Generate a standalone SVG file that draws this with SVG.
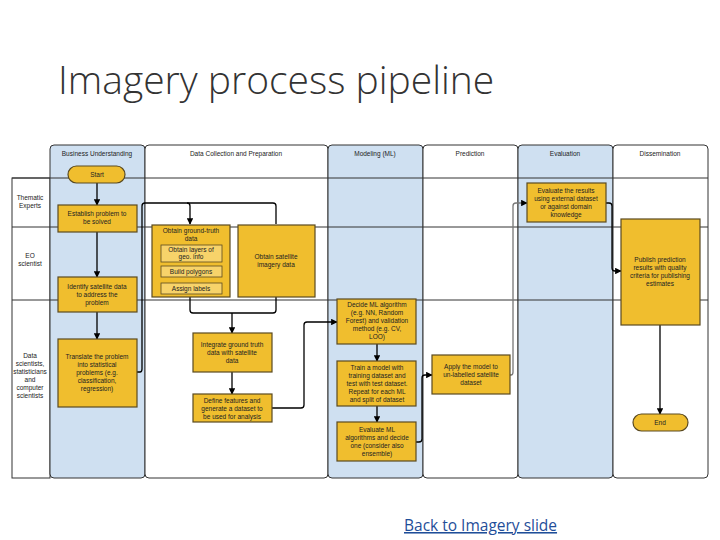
<svg xmlns="http://www.w3.org/2000/svg" width="720" height="540" viewBox="0 0 720 540">
<style>
.lane{stroke:#333;stroke-width:1}
.blue{fill:#cfe0f1}.white{fill:#fff}
.n{fill:#f0be2e;stroke:#5a4a20;stroke-width:1.2}
.s{fill:#f7d36a;stroke:#5a4a20;stroke-width:0.8}
.t{font-family:"Liberation Sans",Arial,sans-serif;font-size:6.5px;fill:#222;text-anchor:middle}
.h{font-family:"Liberation Sans",Arial,sans-serif;font-size:6.5px;fill:#222;text-anchor:middle}
.c{fill:none;stroke:#000;stroke-width:1.3;marker-end:url(#a)}
.c2{fill:none;stroke:#000;stroke-width:1.3}
</style>
<defs><marker id="a" viewBox="0 0 10 10" refX="9" refY="5" markerWidth="5" markerHeight="5" orient="auto"><path d="M0,0L10,5L0,10z" fill="#000"/></marker></defs>
<rect width="720" height="540" fill="#fff"/>
<text x="58" y="94" font-family="'Open Sans','Liberation Sans',sans-serif" font-weight="300" font-size="39" fill="#333">Imagery process pipeline</text>
<g id="lanes">
<rect x="12" y="178" width="38" height="300" class="lane white"/>
<rect x="50" y="145" width="95" height="333" rx="4" class="lane blue"/>
<rect x="145" y="145" width="183" height="333" rx="4" class="lane white"/>
<rect x="328" y="145" width="95" height="333" rx="4" class="lane blue"/>
<rect x="423" y="145" width="95" height="333" rx="4" class="lane white"/>
<rect x="518" y="145" width="95" height="333" rx="4" class="lane blue"/>
<rect x="613" y="145" width="95" height="333" rx="4" class="lane white"/>
<line x1="12" y1="178" x2="708" y2="178" class="lane"/>
<line x1="12" y1="227" x2="708" y2="227" class="lane"/>
<line x1="12" y1="300" x2="708" y2="300" class="lane"/>
<text class="h" x="97" y="156">Business Understanding</text>
<text class="h" x="236" y="156">Data Collection and Preparation</text>
<text class="h" x="375" y="156">Modeling (ML)</text>
<text class="h" x="470" y="156">Prediction</text>
<text class="h" x="565" y="156">Evaluation</text>
<text class="h" x="660" y="156">Dissemination</text>
<text class="h" x="30" y="200">Thematic</text><text class="h" x="30" y="208">Experts</text>
<text class="h" x="30" y="258">EO</text><text class="h" x="30" y="266">scientist</text>
<text class="h" x="30" y="358">Data</text><text class="h" x="30" y="366">scientists,</text><text class="h" x="30" y="374">statisticians</text><text class="h" x="30" y="382">and</text><text class="h" x="30" y="390">computer</text><text class="h" x="30" y="398">scientists</text>
</g>
<g id="connectors">
<path class="c" d="M97,183V205"/>
<path class="c" d="M97,232V277"/>
<path class="c" d="M97,312V339"/>
<path class="c2" d="M137,372H140Q142,372 142,369V206Q142,203 145,203H273Q276,203 276,206V224"/>
<path class="c" d="M187,203Q190,203 190,206V224"/>
<path class="c2" d="M190,297V310Q190,313 193,313H273Q276,313 276,310V297"/>
<path class="c" d="M232,313V333"/>
<path class="c" d="M232,372V394"/>
<path class="c" d="M272,408H301Q304,408 304,405V325Q304,322 307,322H337"/>
<path class="c" d="M377,344V361"/>
<path class="c" d="M377,406V422"/>
<path class="c" d="M416,442H419Q422,442 422,439V378Q422,375 425,375H432"/>
<path class="c2" d="M510,375H511Q513,375 513,372" style="stroke:#777"/>
<path class="c" d="M513,372V206Q513,203 516,203H527" style="stroke:#777"/>
<path class="c" d="M606,203H609Q612,203 612,206V268Q612,271 615,271H621"/>
<path class="c" d="M660,325V414"/>
</g>
<g id="start"><rect x="68" y="166" width="57" height="17" rx="8.5" class="n"/><text class="t" x="97" y="177">Start</text></g>
<g id="establish"><rect x="58" y="205" width="79" height="27" class="n"/><text class="t" x="97" y="216">Establish problem to</text><text class="t" x="97" y="224">be solved</text></g>
<g id="identify"><rect x="58" y="277" width="79" height="35" class="n"/><text class="t" x="97" y="289">Identify satellite data</text><text class="t" x="97" y="297">to address the</text><text class="t" x="97" y="305">problem</text></g>
<g id="translate"><rect x="58" y="339" width="79" height="68" class="n"/><text class="t" x="97" y="359">Translate the problem</text><text class="t" x="97" y="367">into statistical</text><text class="t" x="97" y="375">problems (e.g.</text><text class="t" x="97" y="383">classification,</text><text class="t" x="97" y="391">regression)</text></g>
<g id="groundtruth"><rect x="152" y="225" width="78" height="72" class="n"/><text class="t" x="191" y="233">Obtain ground-truth</text><text class="t" x="191" y="241">data</text>
<rect x="161" y="245" width="61" height="17" class="s"/><text class="t" x="191" y="252">Obtain layers of</text><text class="t" x="191" y="259">geo. info</text>
<rect x="161" y="266" width="61" height="11" class="s"/><text class="t" x="191" y="274">Build polygons</text>
<rect x="161" y="283" width="61" height="11" class="s"/><text class="t" x="191" y="291">Assign labels</text></g>
<g id="satellite"><rect x="238" y="225" width="77" height="72" class="n"/><text class="t" x="276" y="259">Obtain satellite</text><text class="t" x="276" y="267">imagery data</text></g>
<g id="integrate"><rect x="193" y="333" width="79" height="39" class="n"/><text class="t" x="232" y="347">Integrate ground truth</text><text class="t" x="232" y="355">data with satellite</text><text class="t" x="232" y="363">data</text></g>
<g id="define"><rect x="193" y="394" width="79" height="28" class="n"/><text class="t" x="232" y="403">Define features and</text><text class="t" x="232" y="411">generate a dataset to</text><text class="t" x="232" y="419">be used for analysis</text></g>
<g id="decide"><rect x="337" y="299" width="79" height="45" class="n"/><text class="t" x="377" y="307">Decide ML algorithm</text><text class="t" x="377" y="315">(e.g. NN, Random</text><text class="t" x="377" y="323">Forest) and validation</text><text class="t" x="377" y="331">method (e.g. CV,</text><text class="t" x="377" y="339">LOO)</text></g>
<g id="train"><rect x="337" y="361" width="79" height="45" class="n"/><text class="t" x="377" y="370">Train a model with</text><text class="t" x="377" y="378">training dataset and</text><text class="t" x="377" y="386">test with test dataset.</text><text class="t" x="377" y="394">Repeat for each ML</text><text class="t" x="377" y="402">and split of dataset</text></g>
<g id="evalml"><rect x="337" y="422" width="79" height="39" class="n"/><text class="t" x="377" y="432">Evaluate ML</text><text class="t" x="377" y="440">algorithms and decide</text><text class="t" x="377" y="448">one (consider also</text><text class="t" x="377" y="456">ensemble)</text></g>
<g id="apply"><rect x="432" y="355" width="78" height="39" class="n"/><text class="t" x="471" y="369">Apply the model to</text><text class="t" x="471" y="377">un-labelled satellite</text><text class="t" x="471" y="385">dataset</text></g>
<g id="evalres"><rect x="527" y="183" width="79" height="39" class="n"/><text class="t" x="566" y="193">Evaluate the results</text><text class="t" x="566" y="201">using external dataset</text><text class="t" x="566" y="209">or against domain</text><text class="t" x="566" y="217">knowledge</text></g>
<g id="publish"><rect x="621" y="219" width="79" height="106" class="n"/><text class="t" x="660" y="262">Publish prediction</text><text class="t" x="660" y="270">results with quality</text><text class="t" x="660" y="278">criteria for publishing</text><text class="t" x="660" y="286">estimates</text></g>
<g id="end"><rect x="633" y="414" width="55" height="17" rx="8.5" class="n"/><text class="t" x="660" y="425">End</text></g>
<text x="404" y="531" font-family="'Open Sans','Liberation Sans',sans-serif" font-size="15.5" fill="#1f4e99" text-decoration="underline">Back to Imagery slide</text>
</svg>
